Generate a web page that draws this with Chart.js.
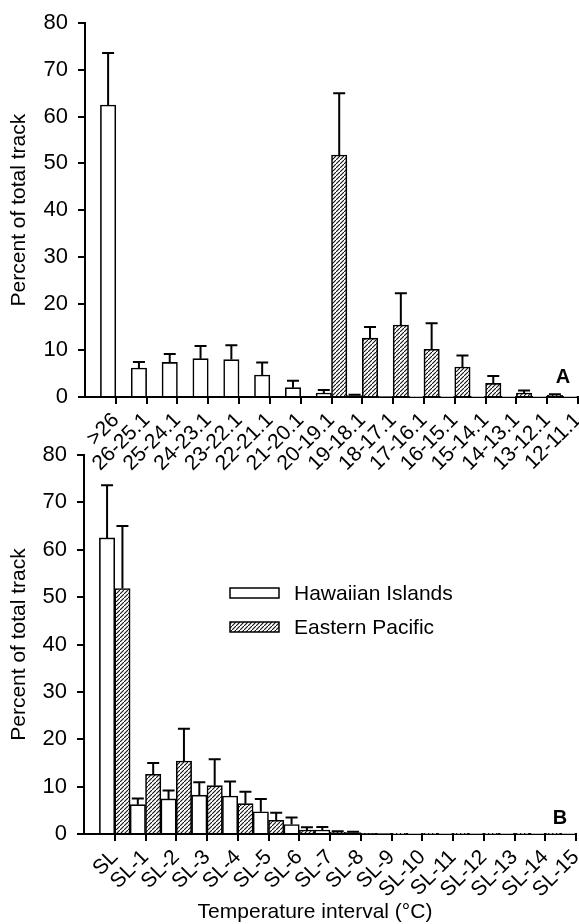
<!DOCTYPE html>
<html>
<head>
<meta charset="utf-8">
<script src="https://cdn.jsdelivr.net/npm/chart.js@4/dist/chart.umd.min.js"></script>
<style>
  html, body { margin: 0; padding: 0; background: #fff; }
  body { width: 579px; height: 924px; position: relative; overflow: hidden; }
  .panel { position: absolute; left: 0; }
  #wrapA { top: 0; width: 579px; height: 480px; }
  #wrapB { top: 430px; width: 579px; height: 494px; }
</style>
</head>
<body>
<div class="panel" id="wrapA"><canvas id="chartA" width="579" height="480"></canvas></div>
<div class="panel" id="wrapB"><canvas id="chartB" width="579" height="494"></canvas></div>
<script>
// ---------------- data ----------------
const tempIntervalsA = ['>26','26-25.1','25-24.1','24-23.1','23-22.1','22-21.1','21-20.1','20-19.1',
                        '19-18.1','18-17.1','17-16.1','16-15.1','15-14.1','14-13.1','13-12.1','12-11.1'];
const slIntervalsB = ['SL','SL-1','SL-2','SL-3','SL-4','SL-5','SL-6','SL-7',
                      'SL-8','SL-9','SL-10','SL-11','SL-12','SL-13','SL-14','SL-15'];
const hawaiianPct = [62.5, 6.2, 7.4, 8.2, 8.0, 4.7, 2.0, 0.85, 0.3, 0.1, 0.05, 0.05, 0.05, 0.05, 0.05, 0.05];
const hawaiianErr = [73.6, 7.5, 9.2, 10.9, 11.1, 7.4, 3.5, 1.5, 0.5, null, null, null, null, null, null, null];
const easternPct  = [51.8, 12.6, 15.4, 10.2, 6.4, 2.9, 0.85, 0.35, 0.15, 0.05, 0.05, 0.05, 0.05, 0.05, 0.05, 0.05];
const easternErr  = [65.0, 15.0, 22.2, 15.8, 8.9, 4.5, 1.4, 0.6, null, null, null, null, null, null, null, null];
const easternStartIndexA = 7;   // position of the first Eastern Pacific interval in panel A
const yTicks = [0, 10, 20, 30, 40, 50, 60, 70, 80];
const seriesNames = ['Hawaiian Islands', 'Eastern Pacific'];
const yAxisTitle = 'Percent of total track';
const xAxisTitleB = 'Temperature interval (°C)';

// ---------------- helpers ----------------
const FONT = '"Liberation Sans", Arial, Helvetica, sans-serif';
Chart.defaults.color = '#000';
Chart.defaults.font.family = FONT;

function makeHatch(ctx) {
  const c = document.createElement('canvas');
  c.width = 4; c.height = 4;
  const g = c.getContext('2d');
  g.fillStyle = '#fff'; g.fillRect(0, 0, 4, 4);
  g.strokeStyle = '#111'; g.lineWidth = 1.1;
  g.beginPath(); g.moveTo(-1, 5); g.lineTo(5, -1); g.stroke();
  return ctx.createPattern(c, 'repeat');
}

const errorBars = {
  id: 'errorBars',
  afterDatasetsDraw(chart) {
    const { ctx } = chart;
    const y = chart.scales.y;
    chart.data.datasets.forEach((ds, di) => {
      if (!ds.errorTop) return;
      const meta = chart.getDatasetMeta(di);
      meta.data.forEach((bar, i) => {
        const e = ds.errorTop[i];
        if (e == null) return;
        const yt = y.getPixelForValue(e);
        ctx.save();
        ctx.strokeStyle = '#000';
        ctx.lineWidth = 2;
        ctx.beginPath();
        ctx.moveTo(bar.x, bar.y); ctx.lineTo(bar.x, yt);
        ctx.moveTo(bar.x - 6, yt); ctx.lineTo(bar.x + 6, yt);
        ctx.stroke();
        ctx.restore();
      });
    });
  }
};

const extraText = {
  id: 'extraText',
  afterDraw(chart, args, opts) {
    const { ctx } = chart;
    ctx.save();
    ctx.fillStyle = '#000';
    ctx.textBaseline = 'middle';
    if (opts.tag) {
      ctx.font = 'bold 20px ' + FONT;
      ctx.textAlign = 'center';
      ctx.fillText(opts.tag.text, opts.tag.x, opts.tag.y);
    }
    if (opts.xTitle) {
      ctx.font = '21px ' + FONT;
      ctx.textAlign = 'center';
      ctx.fillText(opts.xTitle.text, opts.xTitle.x, opts.xTitle.y);
    }
    if (opts.legend) {
      const L = opts.legend;
      chart.data.datasets.forEach((ds, i) => {
        const bx = L.x, by = L.y + i * L.gap;
        ctx.fillStyle = ds.backgroundColor;
        ctx.fillRect(bx, by, L.w, L.h);
        ctx.strokeStyle = '#000'; ctx.lineWidth = 1.5;
        ctx.strokeRect(bx, by, L.w, L.h);
        ctx.fillStyle = '#000';
        ctx.font = '21px ' + FONT;
        ctx.textAlign = 'left';
        ctx.fillText(ds.label, L.textX, by + L.h / 2 + 1);
      });
    }
    ctx.restore();
  }
};

function buildChart(canvasId, labels, hData, hErr, eData, eErr, cfg) {
  const canvas = document.getElementById(canvasId);
  const ctx = canvas.getContext('2d');
  const hatch = makeHatch(ctx);
  const lbls = [''].concat(labels);
  const pad = arr => [null].concat(arr);
  return new Chart(ctx, {
    type: 'bar',
    data: {
      labels: lbls,
      datasets: [
        { label: seriesNames[0], data: pad(hData), errorTop: pad(hErr),
          backgroundColor: '#fff', borderColor: '#000', borderWidth: 1.6,
          categoryPercentage: 1, barPercentage: 1 },
        { label: seriesNames[1], data: pad(eData), errorTop: pad(eErr),
          backgroundColor: hatch, borderColor: '#000', borderWidth: 1.6,
          categoryPercentage: 1, barPercentage: 1 }
      ]
    },
    plugins: [errorBars, extraText],
    options: {
      responsive: false,
      devicePixelRatio: 1,
      animation: false,
      layout: { padding: { top: cfg.padTop, right: cfg.padRight, left: 0, bottom: 0 } },
      plugins: {
        legend: { display: false },
        tooltip: { enabled: false },
        extraText: cfg.extra
      },
      scales: {
        x: {
          offset: false,
          grid: {
            offset: false, drawOnChartArea: false, drawTicks: true, tickLength: 7, lineWidth: 2,
            color: c => (c.index === 0 ? 'rgba(0,0,0,0)' : '#000')
          },
          border: { display: true, color: '#000', width: 2 },
          ticks: {
            autoSkip: false, minRotation: 45, maxRotation: 45, padding: 4,
            font: { size: 21 }, color: '#000'
          },
          title: { display: false },
          afterFit: s => { s.height = cfg.xHeight; s.paddingLeft = 0; s.paddingRight = 0; }
        },
        y: {
          min: 0, max: 80,
          afterBuildTicks: s => { s.ticks = yTicks.map(v => ({ value: v })); },
          grid: { drawOnChartArea: false, drawTicks: true, tickLength: 7, lineWidth: 2, color: '#000' },
          border: { display: true, color: '#000', width: 2 },
          ticks: { padding: 10, font: { size: 22 }, color: '#000' },
          title: { display: true, text: yAxisTitle, font: { size: 21 }, color: '#000',
                   padding: { top: 7, bottom: 0 } },
          afterFit: s => { s.width = cfg.yWidth; }
        }
      }
    }
  });
}

// Panel A: Eastern Pacific intervals start further along the temperature axis
const easternA = tempIntervalsA.map((_, i) => {
  const k = i - easternStartIndexA;
  return k >= 0 && k < easternPct.length ? easternPct[k] : null;
});
const easternErrA = tempIntervalsA.map((_, i) => {
  const k = i - easternStartIndexA;
  return k >= 0 && k < easternErr.length ? easternErr[k] : null;
});

buildChart('chartA', tempIntervalsA, hawaiianPct, hawaiianErr, easternA, easternErrA, {
  padTop: 20, padRight: 1, xHeight: 83, yWidth: 85,
  extra: { tag: { text: 'A', x: 563, y: 377 } }
});

buildChart('chartB', slIntervalsB, hawaiianPct, hawaiianErr, easternPct, easternErr, {
  padTop: 25, padRight: 3, xHeight: 90, yWidth: 84,
  extra: {
    tag: { text: 'B', x: 560, y: 388 },
    xTitle: { text: xAxisTitleB, x: 315, y: 482 },
    legend: { x: 230, y: 158, w: 49, h: 10, gap: 34, textX: 294 }
  }
});
</script>
</body>
</html>
